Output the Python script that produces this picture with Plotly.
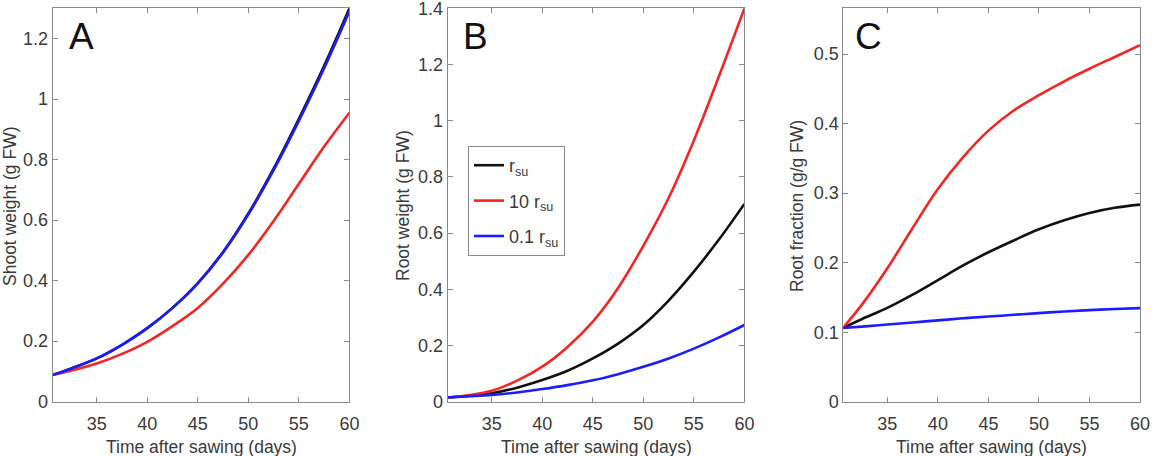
import plotly.graph_objects as go

W, H = 1158, 456

# ---- data ----
days = [30.6, 32.5, 35, 37.5, 40, 42.5, 45, 47.5, 50, 52.5, 55, 57.5, 60]

shoot_rsu = [0.088, 0.110, 0.143, 0.188, 0.243, 0.310, 0.392, 0.495, 0.622, 0.770, 0.935, 1.110, 1.300]
shoot_10rsu = [0.088, 0.103, 0.126, 0.158, 0.198, 0.250, 0.310, 0.390, 0.485, 0.597, 0.720, 0.843, 0.955]
shoot_01rsu = [0.088, 0.110, 0.143, 0.188, 0.243, 0.310, 0.391, 0.493, 0.619, 0.765, 0.928, 1.102, 1.290]

root_rsu = [0.015, 0.020, 0.030, 0.050, 0.077, 0.110, 0.154, 0.207, 0.273, 0.360, 0.463, 0.578, 0.704]
root_10rsu = [0.015, 0.022, 0.039, 0.075, 0.125, 0.195, 0.285, 0.405, 0.555, 0.725, 0.930, 1.160, 1.400]
root_01rsu = [0.015, 0.019, 0.024, 0.033, 0.045, 0.059, 0.076, 0.098, 0.124, 0.154, 0.189, 0.229, 0.273]

frac_rsu = [0.106, 0.119, 0.135, 0.154, 0.175, 0.196, 0.215, 0.232, 0.248, 0.261, 0.2715, 0.2790, 0.2835]
frac_10rsu = [0.106, 0.140, 0.192, 0.250, 0.306, 0.352, 0.390, 0.419, 0.441, 0.461, 0.479, 0.496, 0.513]
frac_01rsu = [0.106, 0.108, 0.111, 0.114, 0.117, 0.120, 0.1225, 0.125, 0.1275, 0.1298, 0.1318, 0.1333, 0.1346]

x_ticks = [35, 40, 45, 50, 55, 60]
y_ticks_A = [0, 0.2, 0.4, 0.6, 0.8, 1.0, 1.2]
y_ticks_B = [0, 0.2, 0.4, 0.6, 0.8, 1.0, 1.2, 1.4]
y_ticks_C = [0, 0.1, 0.2, 0.3, 0.4, 0.5]
panel_letters = ["A", "B", "C"]
y_titles = ["Shoot weight (g FW)", "Root weight (g FW)", "Root fraction (g/g FW)"]
x_title = "Time after sawing (days)"
legend_names = ["r<sub>su</sub>", "10 r<sub>su</sub>", "0.1 r<sub>su</sub>"]
colors = ["#111111", "#f42525", "#1c1cff"]

panels = [
    (shoot_rsu, shoot_10rsu, shoot_01rsu, [0, 1.3], y_ticks_A),
    (root_rsu, root_10rsu, root_01rsu, [0, 1.4003], y_ticks_B),
    (frac_rsu, frac_10rsu, frac_01rsu, [0, 0.566], y_ticks_C),
]

# pixel geometry
x_left = [52.7, 447.7, 843.3]
pw = 296.7
y_top, y_bot = 8.3, 401.7

fig = go.Figure()
font_fam = "Liberation Sans, Arial, sans-serif"
axis_col = "#8a8a8a"
txt_col = "#3a3a3a"

for i, (s0, s1, s2, yr, yt) in enumerate(panels):
    xa = "x" if i == 0 else f"x{i+1}"
    ya = "y" if i == 0 else f"y{i+1}"
    series = [s0, s1, s2]
    for k in [0, 1, 2]:
        fig.add_trace(go.Scatter(
            x=days, y=series[k], mode="lines", xaxis=xa, yaxis=ya,
            name=legend_names[k], showlegend=(i == 1),
            legendgroup=f"g{k}",
            line=dict(color=colors[k], width=2.6, shape="spline", smoothing=1.0),
        ))
    dom_x = [x_left[i] / W, (x_left[i] + pw) / W]
    dom_y = [1 - y_bot / H, 1 - y_top / H]
    axx = dict(domain=dom_x, range=[30.64, 60], tickvals=x_ticks,
               showline=True, mirror="allticks", linecolor=axis_col, linewidth=1,
               ticks="inside", ticklen=5, tickcolor=axis_col, showgrid=False, zeroline=False,
               tickfont=dict(size=18, color=txt_col, family=font_fam),
               ticklabelstandoff=6, automargin=False, anchor=ya)
    axy = dict(domain=dom_y, range=yr, tickvals=yt,
               showline=True, mirror="allticks", linecolor=axis_col, linewidth=1,
               ticks="inside", ticklen=5, tickcolor=axis_col, showgrid=False, zeroline=False,
               tickfont=dict(size=18, color=txt_col, family=font_fam),
               ticklabeloverflow="allow", automargin=False, anchor=xa)
    key = "" if i == 0 else str(i + 1)
    fig.layout["xaxis" + key] = axx
    fig.layout["yaxis" + key] = axy

annotations = []
letter_x = [81, 475, 868]
ytitle_x = [10, 403, 797]
for i in range(3):
    annotations.append(dict(text=panel_letters[i], x=letter_x[i] / W, y=1 - 36 / H,
                            xref="paper", yref="paper", showarrow=False,
                            font=dict(size=37, color="#111111", family=font_fam),
                            xanchor="center", yanchor="middle"))
    annotations.append(dict(text=y_titles[i], x=ytitle_x[i] / W, y=1 - 206 / H,
                            xref="paper", yref="paper", showarrow=False, textangle=-90,
                            font=dict(size=17.5, color=txt_col, family=font_fam),
                            xanchor="center", yanchor="middle"))
    annotations.append(dict(text=x_title, x=(x_left[i] + pw / 2) / W, y=1 - 435 / H,
                            xref="paper", yref="paper", showarrow=False,
                            font=dict(size=17.5, color=txt_col, family=font_fam),
                            xanchor="center", yanchor="top"))

fig.update_layout(
    width=W, height=H,
    margin=dict(l=0, r=0, t=0, b=0, autoexpand=False),
    paper_bgcolor="white", plot_bgcolor="white",
    annotations=annotations,
    legend=dict(x=468 / W, y=1 - 146 / H, xanchor="left", yanchor="top",
                bordercolor=axis_col, borderwidth=1, bgcolor="white",
                font=dict(size=18, color=txt_col, family=font_fam),
                tracegroupgap=9, itemwidth=30),
)

fig.write_html("out.html")
